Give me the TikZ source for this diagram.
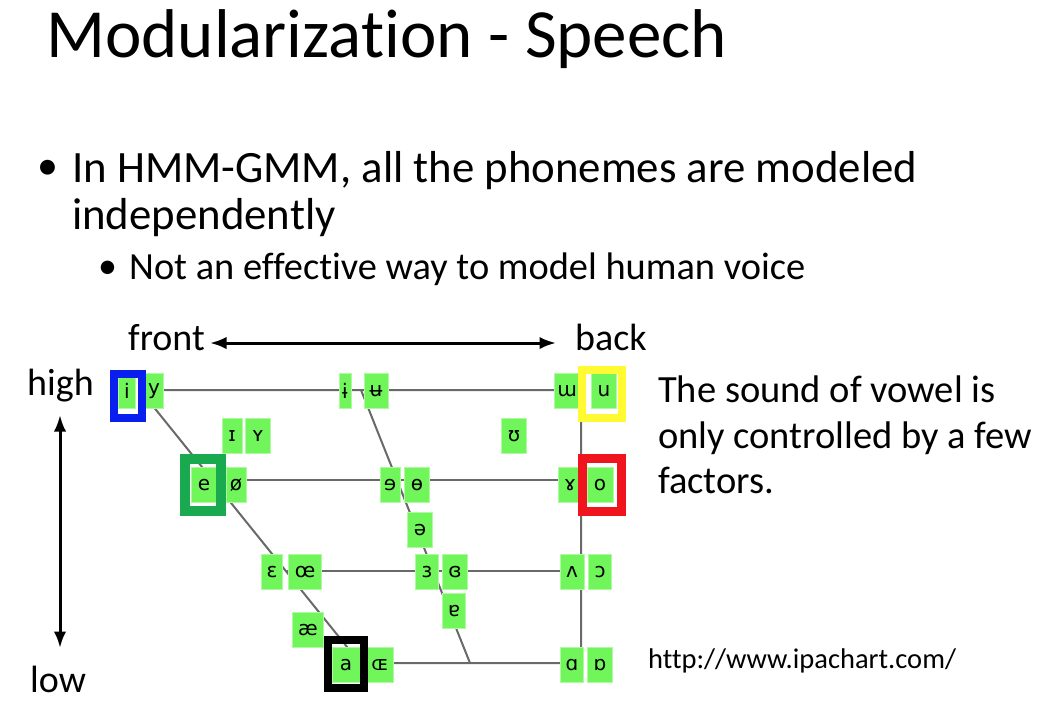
\documentclass[tikz,border=0pt]{standalone}
\usepackage{fontspec}
\setmainfont{Carlito}[Ligatures=NoCommon]
\newfontfamily\ipafont{DejaVu Sans}
\usepackage{xcolor}
\usetikzlibrary{arrows.meta}
\definecolor{boxgreen}{RGB}{112,245,90}
\definecolor{boxrim}{RGB}{175,250,160}
\definecolor{chartgray}{RGB}{105,105,105}
\definecolor{hlblue}{RGB}{10,30,240}
\definecolor{hlgreen}{RGB}{25,170,80}
\definecolor{hlyellow}{RGB}{255,250,50}
\definecolor{hlred}{RGB}{240,20,30}

\begin{document}
\begin{tikzpicture}[>=Latex, x=1pt, y=-1pt,
  txt/.style={anchor=base west, inner sep=0pt},
  vowel/.style={fill=boxgreen, draw=boxrim, line width=1pt, inner sep=0pt,
    minimum height=35pt, font=\ipafont\fontsize{20}{20}\selectfont},
  chart/.style={draw=chartgray, line width=2pt},
  hilite/.style={line width=8pt}]
  \useasboundingbox[fill=white] (0,0) rectangle (1050,716);
  % slide text
  \node[txt, font=\fontsize{69}{69}\selectfont] (title) at (46,57) {Modularization - Speech};
  \node[txt, font=\fontsize{42}{42}\selectfont] (dot1) at (37,179) {•};
  \node[txt, font=\fontsize{44.8}{44.8}\selectfont] (line1) at (72,182) {In HMM-GMM, all the phonemes are modeled};
  \node[txt, font=\fontsize{44.8}{44.8}\selectfont] (line2) at (72,229) {independently};
  \node[txt, font=\fontsize{38}{38}\selectfont] (dot2) at (98,278) {•};
  \node[txt, font=\fontsize{38.4}{38.4}\selectfont] (line3) at (129,279) {Not an effective way to model human voice};
  % axes
  \node[txt, font=\fontsize{38}{38}\selectfont] (front) at (128,350) {front};
  \node[txt, font=\fontsize{38}{38}\selectfont] (back) at (575,350) {back};
  \node[txt, font=\fontsize{38}{38}\selectfont] (high) at (27,395) {high};
  \node[txt, font=\fontsize{38}{38}\selectfont] (low) at (30,692) {low};
  \coordinate (fronttip) at (210,343);
  \coordinate (backtip) at (556,343);
  \coordinate (hightip) at (60,415);
  \coordinate (lowtip) at (60,648);
  \draw[<->, line width=3pt] (fronttip) -- (backtip);
  \draw[<->, line width=3pt] (hightip) -- (lowtip);
  % chart frame
  \coordinate (fc) at (140,390);
  \coordinate (cc) at (361,390);
  \coordinate (bc) at (581,390);
  \coordinate (fm) at (212,480);
  \coordinate (bm) at (581,480);
  \coordinate (fl) at (287,571);
  \coordinate (bl) at (581,571);
  \coordinate (fo) at (360,663);
  \coordinate (co) at (470,663);
  \coordinate (bo) at (581,663);
  \draw[chart] (fc) -- (bc) -- (bo) -- (fo) -- cycle;
  \draw[chart] (cc) -- (co);
  \draw[chart] (fm) -- (bm);
  \draw[chart] (fl) -- (bl);
  % vowels
  \foreach \nm/\gx/\gy/\gw/\gl in {vi/127/391/17/i, vy/154/391/19/y, vbi/345/391/12/ɨ,
      vbu/376/391/24/ʉ, vum/567/391/25/ɯ, vu/604/391/25/u,
      vsi/232/436/20/ɪ, vsy/258/436/25/ʏ, vhu/514/436/25/ʊ,
      ve/204/485/25/e, vsl/236/485/20/ø, vre/390/485/20/ɘ, vbo/417/485/25/ɵ,
      vga/570/485/23/ɤ, vo/600/485/26/o, vsw/420/530/25/ə,
      veps/272/572/21/ɛ, voe/305/572/33/œ, vrep/427/572/23/ɜ, vcrep/455/572/25/ɞ,
      vwed/572/572/24/ʌ, vopo/600/572/23/ɔ, vae/308/630/31/æ, vta/454/611/23/ɐ,
      va/346/665/28/a, vsoe/380/665/27/ɶ, val/572/665/23/ɑ, vtal/600/665/25/ɒ}
    \node[vowel, minimum width=\gw pt] (\nm) at (\gx,\gy) {\gl};
  % highlighted vowels
  \draw[hilite, hlblue] (114,374) rectangle (142,418);
  \draw[hilite, line width=10pt, hlgreen] (185,459) rectangle (221,511);
  \draw[hilite, hlyellow] (582,370) rectangle (622,418);
  \draw[hilite, line width=9pt, hlred] (582.5,458.5) rectangle (621.5,511.5);
  \draw[hilite, black] (328,640) rectangle (364,688);
  % remark
  \node[txt, font=\fontsize{38.5}{38.5}\selectfont] (snd1) at (658,402) {The sound of vowel is};
  \node[txt, font=\fontsize{38.5}{38.5}\selectfont] (snd2) at (658,448) {only controlled by a few};
  \node[txt, font=\fontsize{38.5}{38.5}\selectfont] (snd3) at (658,493) {factors.};
  \node[txt, font=\fontsize{28.5}{28.5}\selectfont] (url) at (648,668) {http://www.ipachart.com/};
\end{tikzpicture}
\end{document}
